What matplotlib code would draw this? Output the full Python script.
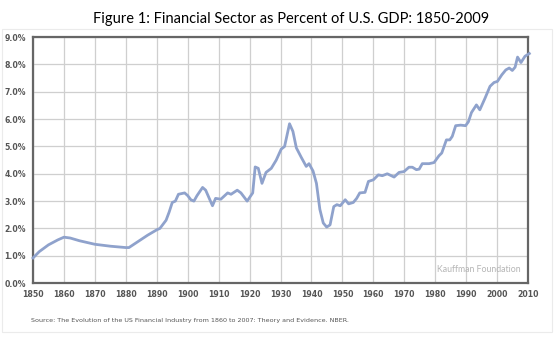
import matplotlib.pyplot as plt
from matplotlib.patches import Rectangle

years = [1850, 1852, 1855, 1858, 1860, 1862, 1865, 1870, 1875, 1880, 1881, 1883, 1885,
         1887, 1890, 1891, 1893, 1894, 1895, 1896, 1897, 1899, 1900, 1901, 1902, 1903,
         1904.8, 1905.8, 1908, 1909, 1910.7, 1912.9, 1914, 1916, 1917.2, 1919.2, 1921,
         1921.8, 1922.8, 1924, 1925.3, 1927, 1928.6, 1930.2, 1931.3, 1932.9, 1934, 1935.1,
         1936.7, 1938.3, 1939.2, 1940.5, 1941.6, 1942.7, 1943.8, 1944.9, 1946, 1947.2,
         1948.2, 1949.3, 1950.9, 1952, 1953.5, 1954.6, 1955.6, 1957.3, 1958.4, 1960,
         1961.6, 1962.9, 1964.5, 1966.7, 1968.3, 1969.9, 1971.5, 1972.6, 1973.9, 1974.8,
         1975.8, 1978, 1979.6, 1981.2, 1982.1, 1983.6, 1984.7, 1985.5, 1986.6, 1988.2,
         1989.8, 1990.7, 1991.7, 1993.3, 1994.4, 1996.1, 1997.7, 1999, 2000.1, 2001.5,
         2002.8, 2003.9, 2004.9, 2005.8, 2006.6, 2007.7, 2009, 2010.4]
share = [0.92, 1.15, 1.4, 1.58, 1.68, 1.65, 1.55, 1.42, 1.35, 1.3, 1.3, 1.45, 1.6,
         1.75, 1.95, 2.0, 2.3, 2.6, 2.95, 3.0, 3.25, 3.3, 3.2, 3.05, 3.0, 3.2,
         3.5, 3.4, 2.83, 3.1, 3.07, 3.3, 3.25, 3.4, 3.3, 3.0, 3.3,
         4.25, 4.2, 3.65, 4.05, 4.2, 4.5, 4.9, 5.0, 5.83, 5.55, 4.95,
         4.6, 4.27, 4.37, 4.1, 3.65, 2.7, 2.2, 2.05, 2.13, 2.8,
         2.87, 2.83, 3.05, 2.9, 2.95, 3.1, 3.3, 3.32, 3.72, 3.78,
         3.96, 3.93, 4.0, 3.88, 4.05, 4.08, 4.24, 4.24, 4.15, 4.17,
         4.37, 4.37, 4.41, 4.66, 4.76, 5.24, 5.24, 5.37, 5.76, 5.78,
         5.76, 5.9, 6.24, 6.52, 6.34, 6.77, 7.2, 7.34, 7.38, 7.62,
         7.8, 7.87, 7.78, 7.9, 8.27, 8.07, 8.3, 8.4]

xticks = list(range(1850, 2011, 10))
yticks = [0, 1, 2, 3, 4, 5, 6, 7, 8, 9]

fig = plt.figure(figsize=(5.55, 3.57), dpi=100)
fig.patches.append(Rectangle((0.004, 0.07), 0.99, 0.85, transform=fig.transFigure,
                             fill=False, edgecolor='#ebebeb', linewidth=0.8))
ax = fig.add_axes([0.0595, 0.207, 0.892, 0.689])

ax.plot(years, share, color='#8fa2cc', linewidth=2.0, clip_on=False, zorder=3)
ax.set_xlim(1850, 2010)
ax.set_ylim(0, 9)
ax.set_xticks(xticks)
ax.set_yticks(yticks)
ax.set_yticklabels(['%.1f%%' % v for v in yticks])
ax.grid(color='#cfcfcf', linewidth=0.9)
ax.tick_params(length=0, pad=5, labelsize=5.6, labelcolor='#555555')
for lab in ax.get_xticklabels() + ax.get_yticklabels():
    lab.set_fontweight('bold')
for s in ax.spines.values():
    s.set_color('#666666')
    s.set_linewidth(1.6)

ax.text(0.985, 0.035, 'Kauffman Foundation', transform=ax.transAxes, ha='right',
        va='bottom', fontsize=6.3, color='#b5b5b5', family='Lato')

fig.text(0.525, 0.948, 'Figure 1: Financial Sector as Percent of U.S. GDP: 1850-2009',
         ha='center', va='center', fontsize=10.5, family='Lato')
fig.text(0.055, 0.103, 'Source: The Evolution of the US Financial Industry from 1860 to 2007: '
         'Theory and Evidence. NBER.', ha='left', va='center', fontsize=4.6,
         color='#555555')

fig.savefig('out.png', dpi=100)
